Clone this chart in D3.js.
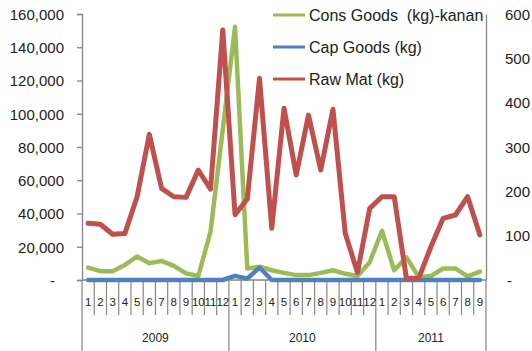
<!DOCTYPE html>
<html><head><meta charset="utf-8">
<script src="https://cdn.jsdelivr.net/npm/d3@7"></script>
<style>
html,body{margin:0;padding:0;background:#fff;}
svg{display:block;font-family:"Liberation Sans",Arial,sans-serif;}
</style></head>
<body><svg id="c" width="532" height="351"></svg>
<script>
const months = [1,2,3,4,5,6,7,8,9,10,11,12, 1,2,3,4,5,6,7,8,9,10,11,12, 1,2,3,4,5,6,7,8,9];
const years = ["2009","2010","2011"];
const yearCounts = [12,12,9];
const consGoods = [28,20,20,34,53,38,43,32,15,9,109,340,571,26,30,22,16,11,11,16,22,14,9,40,111,22,51,7,9,26,26,8,19];
const capGoods = [0,0,0,0,0,0,0,0,0,0,0,0,2500,800,7500,0,0,0,0,0,0,0,0,0,0,0,0,0,0,0,0,0,0];
const rawMat = [34100,33500,27500,27900,50100,87600,55100,50100,49700,66100,54600,150400,39300,48700,121300,31100,103300,63200,99200,66200,102700,28100,4500,43100,50100,50100,1000,1000,20000,37100,39100,50100,27100];
const leftTicks = [0,20000,40000,60000,80000,100000,120000,140000,160000];
const rightTicks = [0,100,200,300,400,500,600];
const seriesNames = ["Cons Goods  (kg)-kanan","Cap Goods (kg)","Raw Mat (kg)"];
const colors = ["#9BBB59","#4F81BD","#C0504D"];

const svg = d3.select("#c");
const idx = d3.range(months.length);
const x = d3.scaleBand().domain(idx).range([82,486]).padding(0);
const yL = d3.scaleLinear().domain([0,160000]).range([280,14]);
const yR = d3.scaleLinear().domain([0,600]).range([280,14]);
const axisCol = "#868686";
const txtCol = "#222";

// left axis
const fmt = v => v===0 ? "-" : d3.format(",")(v);
const gL = svg.append("g").attr("transform","translate(82,0)")
  .call(d3.axisLeft(yL).tickValues(leftTicks).tickSize(5).tickFormat(fmt));
gL.select(".domain").attr("stroke",axisCol).attr("stroke-width",1.3);
gL.selectAll(".tick line").attr("stroke",axisCol).attr("stroke-width",1.3);
gL.selectAll(".tick text").attr("fill",txtCol).attr("font-size",15).attr("x",-18).attr("dy","0.35em")
  .filter(d=>d===0).attr("x",-27);

// right axis
const gR = svg.append("g").attr("transform","translate(486,0)")
  .call(d3.axisRight(yR).tickValues(rightTicks).tickSize(0).tickFormat(fmt));
gR.select(".domain").attr("stroke",axisCol).attr("stroke-width",1.3);
gR.selectAll(".tick text").attr("fill",txtCol).attr("font-size",15).attr("x",19).attr("dy","0.35em")
  .filter(d=>d===0).attr("x",21);

// x axis baseline
const bw = x.bandwidth();
svg.append("line").attr("x1",82).attr("x2",486).attr("y1",280).attr("y2",280)
  .attr("stroke",axisCol).attr("stroke-width",1.3);
// category boundaries
const yearStarts = [0]; yearCounts.reduce((a,c)=>{yearStarts.push(a+c);return a+c;},0);
for(let i=0;i<=months.length;i++){
  const xx = i<months.length ? x(i) : x(months.length-1)+bw;
  const isYear = yearStarts.includes(i);
  svg.append("line").attr("x1",xx).attr("x2",xx).attr("y1",280).attr("y2",isYear?351:315)
    .attr("stroke",axisCol).attr("stroke-width",1.2);
}
svg.append("g").selectAll("text").data(idx).join("text")
  .attr("x",i=>x(i)+bw/2).attr("y",302).attr("dy","0.35em").attr("text-anchor","middle")
  .attr("font-size",11.5).attr("fill",txtCol).text(i=>months[i]);
svg.append("g").selectAll("text").data(years).join("text")
  .attr("x",(d,k)=>{const s=yearStarts[k],e=yearStarts[k+1]; return (x(s)+x(e-1)+bw)/2;})
  .attr("y",338).attr("dy","0.35em").attr("text-anchor","middle")
  .attr("font-size",12).attr("fill",txtCol).text(d=>d);

// lines
function draw(vals, scale, col, w){
  svg.append("path").datum(idx).attr("fill","none").attr("stroke",col).attr("stroke-width",w)
    .attr("stroke-linejoin","round").attr("stroke-linecap","round")
    .attr("d", d3.line().x(i=>x(i)+bw/2).y(i=>scale(vals[i])));
}
draw(consGoods, yR, colors[0], 4.5);
draw(capGoods, yL, colors[1], 4.5);
draw(rawMat, yL, colors[2], 5);

// legend
const lg = svg.append("g");
seriesNames.forEach((n,k)=>{
  const yy = 15 + k*32;
  lg.append("line").attr("x1",273).attr("x2",305).attr("y1",yy).attr("y2",yy)
    .attr("stroke",colors[k]).attr("stroke-width",3);
  lg.append("text").attr("x",309).attr("y",yy).attr("dy","0.35em")
    .attr("font-size",16).attr("fill",txtCol).style("white-space","pre").text(n);
});
</script></body></html>
